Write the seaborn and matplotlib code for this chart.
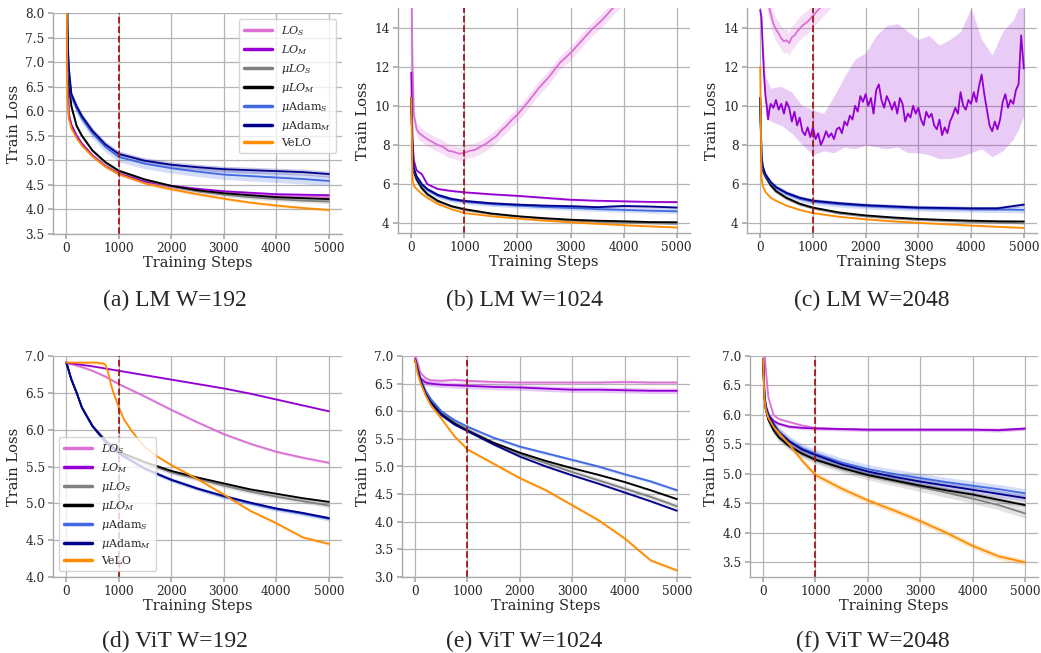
import matplotlib
matplotlib.use("Agg")
import matplotlib.pyplot as plt
from matplotlib.lines import Line2D
import numpy as np
import pandas as pd
import seaborn as sns

# common step grid used for most curves
STEPS = [0, 25, 50, 100, 200, 300, 500, 750, 1000, 1500, 2000, 2500, 3000, 3500, 4000, 4500, 5000]

RUNS = ['LO_S', 'LO_M', 'muLO_S', 'muLO_M', 'muAdam_S', 'muAdam_M', 'VeLO']
LEGEND_LABELS = ['$LO_S$', '$LO_M$', r'$\mu LO_S$', r'$\mu LO_M$',
                 r'$\mu$Adam$_S$', r'$\mu$Adam$_M$', 'VeLO']
PALETTE = dict(zip(RUNS, ['orchid', 'darkviolet', 'gray', 'black',
                          'royalblue', 'darkblue', 'darkorange']))

# (a) LM W=192
LM192 = {
    'LO_S':     [10.4, 7.0, 5.95, 5.72, 5.5, 5.34, 5.1, 4.88, 4.73, 4.56, 4.46, 4.39, 4.34, 4.30, 4.27, 4.26, 4.25],
    'LO_M':     [10.4, 7.0, 5.95, 5.72, 5.5, 5.34, 5.1, 4.88, 4.73, 4.57, 4.48, 4.42, 4.37, 4.34, 4.31, 4.30, 4.29],
    'muLO_S':   [10.4, 7.6, 6.6, 6.1, 5.7, 5.5, 5.2, 4.95, 4.78, 4.60, 4.47, 4.37, 4.30, 4.25, 4.21, 4.18, 4.16],
    'muLO_M':   [10.4, 7.7, 6.6, 6.1, 5.7, 5.5, 5.2, 4.96, 4.79, 4.61, 4.48, 4.39, 4.33, 4.29, 4.25, 4.23, 4.21],
    'muAdam_S': [10.4, 7.5, 6.8, 6.3, 6.05, 5.85, 5.55, 5.27, 5.07, 4.93, 4.84, 4.77, 4.71, 4.68, 4.65, 4.62, 4.58],
    'muAdam_M': [10.4, 7.6, 6.9, 6.35, 6.1, 5.9, 5.6, 5.32, 5.13, 4.99, 4.91, 4.86, 4.82, 4.80, 4.78, 4.76, 4.72],
    'VeLO':     [10.4, 6.3, 5.85, 5.65, 5.45, 5.3, 5.08, 4.87, 4.72, 4.53, 4.41, 4.31, 4.22, 4.14, 4.08, 4.03, 3.99],
}
LM192_BAND = {'LO_S': 0.04, 'LO_M': 0.03, 'muLO_S': 0.04, 'muLO_M': 0.03,
              'muAdam_S': 0.1, 'muAdam_M': 0.06, 'VeLO': 0.03}

# (b) LM W=1024
LM1024 = {
    'LO_M':     [11.7, 8.2, 7.2, 6.7, 6.5, 6.0, 5.75, 5.65, 5.58, 5.48, 5.40, 5.30, 5.20, 5.15, 5.12, 5.09, 5.08],
    'muLO_S':   [10.4, 7.2, 6.6, 6.2, 5.75, 5.45, 5.1, 4.85, 4.68, 4.47, 4.33, 4.22, 4.13, 4.07, 4.03, 4.00, 3.97],
    'muLO_M':   [10.4, 7.2, 6.6, 6.25, 5.8, 5.5, 5.15, 4.88, 4.72, 4.50, 4.36, 4.26, 4.18, 4.13, 4.10, 4.06, 4.05],
    'muAdam_S': [10.4, 7.3, 6.7, 6.35, 5.95, 5.7, 5.4, 5.2, 5.10, 4.98, 4.90, 4.83, 4.78, 4.72, 4.68, 4.64, 4.61],
    'muAdam_M': [10.4, 7.4, 6.8, 6.4, 6.0, 5.75, 5.45, 5.25, 5.14, 5.02, 4.95, 4.90, 4.87, 4.82, 4.88, 4.85, 4.80],
    'VeLO':     [10.4, 6.2, 5.9, 5.75, 5.5, 5.3, 4.98, 4.72, 4.52, 4.36, 4.24, 4.13, 4.05, 3.97, 3.90, 3.84, 3.78],
}
LM1024_LOS_STEPS = [0, 25, 50, 100, 150, 200, 300, 400, 500, 600, 700, 800, 900, 1000, 1100, 1200, 1300,
                    1400, 1500, 1600, 1700, 1800, 1900, 2000, 2200, 2400, 2600, 2800, 3000, 3200, 3400,
                    3600, 3800, 4000, 4500, 5000]
LM1024_LOS = [17.0, 12.0, 9.5, 8.8, 8.6, 8.5, 8.3, 8.15, 8.0, 7.9, 7.7, 7.65, 7.55, 7.6, 7.7, 7.75, 7.9,
              8.05, 8.25, 8.45, 8.75, 9.0, 9.3, 9.55, 10.2, 10.9, 11.5, 12.2, 12.7, 13.3, 13.9,
              14.4, 15.0, 15.5, 16.8, 18.0]
LM1024_BAND = {'LO_S': 0.35, 'LO_M': 0.05, 'muLO_S': 0.04, 'muLO_M': 0.03,
               'muAdam_S': 0.12, 'muAdam_M': 0.08, 'VeLO': 0.03}

# (c) LM W=2048
LM2048 = {
    'muLO_S':   [10.4, 7.2, 6.65, 6.35, 5.9, 5.6, 5.25, 4.95, 4.76, 4.50, 4.35, 4.25, 4.17, 4.12, 4.07, 4.03, 4.00],
    'muLO_M':   [10.4, 7.2, 6.7, 6.4, 5.95, 5.65, 5.3, 5.0, 4.80, 4.55, 4.40, 4.30, 4.22, 4.17, 4.13, 4.10, 4.09],
    'muAdam_S': [10.4, 7.4, 6.8, 6.45, 6.05, 5.8, 5.5, 5.25, 5.10, 4.97, 4.88, 4.82, 4.77, 4.74, 4.71, 4.70, 4.68],
    'muAdam_M': [10.4, 7.5, 6.9, 6.5, 6.1, 5.85, 5.55, 5.3, 5.15, 5.02, 4.92, 4.86, 4.80, 4.78, 4.76, 4.76, 4.95],
    'VeLO':     [12.0, 6.3, 5.9, 5.6, 5.3, 5.15, 4.9, 4.68, 4.52, 4.33, 4.20, 4.10, 4.02, 3.95, 3.88, 3.82, 3.76],
}
LM2048_LOS_STEPS = [0, 100, 150, 200, 250, 300, 350, 400, 450, 500, 550, 600, 650, 700, 800, 900, 1000,
                    1100, 1200, 1400, 2000, 3000, 4000, 5000]
LM2048_LOS = [16.5, 16.0, 15.3, 14.7, 14.2, 13.9, 13.7, 13.45, 13.3, 13.35, 13.2, 13.5, 13.6, 13.8, 14.1,
              14.3, 14.6, 14.9, 15.2, 15.8, 17.0, 18.0, 19.0, 20.0]
LM2048_LOM_STEPS = [0, 25, 50, 75, 100, 125, 150, 175] + list(range(200, 5001, 50))
LM2048_LOM = [14.9, 14.5, 12.9, 11.5, 10.5, 10.0, 9.3, 9.8, 10.1, 9.9, 10.3, 9.8, 10.1, 9.6, 10.2, 9.9,
              9.2, 9.7, 9.0, 9.4, 8.7, 8.5, 8.9, 8.4, 8.9, 8.3, 8.6, 8.0, 8.3, 8.7, 8.4, 8.6,
              8.3, 8.8, 8.9, 8.6, 9.2, 9.0, 9.5, 9.3, 10.0, 9.7, 10.5, 10.2, 10.6, 10.0, 10.4, 9.6,
              10.8, 11.1, 10.3, 9.9, 10.5, 10.2, 9.8, 10.2, 9.6, 10.4, 10.1, 9.2, 9.6, 9.4, 10.0, 9.6,
              9.9, 9.3, 9.0, 9.7, 9.4, 9.6, 9.0, 8.8, 9.3, 8.5, 8.9, 8.6, 9.2, 9.5, 9.9, 9.6,
              10.7, 10.0, 9.8, 10.3, 10.1, 10.7, 10.2, 11.0, 11.6, 10.6, 9.8, 9.0, 8.7, 9.2, 8.8, 9.3,
              10.2, 10.6, 9.9, 10.3, 10.1, 10.8, 11.1, 13.6, 11.9]
LM2048_LOM_BAND_STEPS = [0, 100, 200, 400, 600, 800, 1000, 1200, 1400, 1600, 1800, 2000, 2200, 2400,
                         2600, 2800, 3000, 3200, 3400, 3600, 3800, 4000, 4200, 4400, 4600, 4800, 4900, 5000]
LM2048_LOM_LOW = [14.5, 9.5, 9.2, 9.0, 8.6, 8.0, 7.5, 7.7, 7.6, 7.9, 7.8, 8.0, 7.9, 7.8,
                  7.9, 7.6, 7.6, 7.5, 7.3, 7.3, 7.4, 7.6, 7.8, 7.4, 7.7, 8.3, 8.8, 9.5]
LM2048_LOM_HIGH = [15.2, 11.5, 10.9, 11.0, 10.7, 10.0, 9.8, 9.6, 10.5, 11.5, 12.4, 12.7, 13.6, 14.1,
                   14.2, 13.8, 13.4, 13.6, 13.1, 13.4, 13.8, 15.0, 13.4, 12.6, 13.8, 14.4, 15.0, 15.0]
LM2048_BAND = {'LO_S': 0.6, 'muLO_S': 0.05, 'muLO_M': 0.04,
               'muAdam_S': 0.15, 'muAdam_M': 0.1, 'VeLO': 0.04}

# (d) ViT W=192
VIT192 = {
    'LO_S':     [6.91, 6.9, 6.9, 6.89, 6.87, 6.85, 6.8, 6.72, 6.62, 6.45, 6.27, 6.10, 5.94, 5.81, 5.70, 5.62, 5.55],
    'LO_M':     [6.91, 6.91, 6.9, 6.9, 6.89, 6.88, 6.86, 6.83, 6.80, 6.74, 6.68, 6.62, 6.56, 6.49, 6.41, 6.33, 6.25],
    'muLO_S':   [6.91, 6.86, 6.8, 6.68, 6.5, 6.3, 6.05, 5.85, 5.70, 5.55, 5.42, 5.33, 5.24, 5.16, 5.09, 5.03, 4.97],
    'muLO_M':   [6.91, 6.86, 6.8, 6.68, 6.5, 6.3, 6.05, 5.85, 5.70, 5.56, 5.44, 5.35, 5.27, 5.19, 5.13, 5.07, 5.02],
    'muAdam_S': [6.91, 6.86, 6.8, 6.68, 6.5, 6.3, 6.05, 5.83, 5.68, 5.47, 5.32, 5.20, 5.09, 5.00, 4.92, 4.86, 4.79],
    'muAdam_M': [6.91, 6.86, 6.8, 6.68, 6.5, 6.3, 6.05, 5.83, 5.68, 5.47, 5.32, 5.20, 5.10, 5.01, 4.93, 4.87, 4.80],
}
VIT192_VELO_STEPS = [0, 300, 500, 600, 650, 700, 750, 800, 850, 900, 1000, 1100, 1250, 1500, 1750, 2000,
                     2500, 3000, 3500, 4000, 4500, 5000]
VIT192_VELO = [6.91, 6.91, 6.91, 6.91, 6.9, 6.9, 6.88, 6.78, 6.62, 6.5, 6.31, 6.14, 5.98, 5.76, 5.63, 5.52,
               5.33, 5.12, 4.9, 4.73, 4.54, 4.45]
VIT192_BAND = {'LO_S': 0.02, 'LO_M': 0.01, 'muLO_S': 0.03, 'muLO_M': 0.02,
               'muAdam_S': 0.03, 'muAdam_M': 0.02, 'VeLO': 0.02}

# (e) ViT W=1024
VIT1024 = {
    'LO_S':     [7.0, 6.95, 6.88, 6.7, 6.6, 6.56, 6.55, 6.57, 6.55, 6.53, 6.52, 6.52, 6.52, 6.52, 6.53, 6.52, 6.52],
    'LO_M':     [6.95, 6.85, 6.75, 6.6, 6.52, 6.5, 6.48, 6.47, 6.46, 6.44, 6.43, 6.41, 6.39, 6.39, 6.38, 6.37, 6.37],
    'muLO_S':   [6.93, 6.85, 6.75, 6.58, 6.35, 6.2, 5.98, 5.8, 5.67, 5.42, 5.22, 5.06, 4.90, 4.75, 4.60, 4.45, 4.28],
    'muLO_M':   [6.93, 6.85, 6.75, 6.58, 6.33, 6.17, 5.95, 5.78, 5.65, 5.43, 5.25, 5.10, 4.97, 4.85, 4.72, 4.57, 4.41],
    'muAdam_S': [6.93, 6.85, 6.76, 6.6, 6.37, 6.22, 6.0, 5.84, 5.72, 5.52, 5.36, 5.24, 5.12, 5.00, 4.86, 4.73, 4.57],
    'muAdam_M': [6.93, 6.85, 6.75, 6.57, 6.32, 6.15, 5.93, 5.76, 5.64, 5.40, 5.18, 5.00, 4.84, 4.69, 4.53, 4.37, 4.20],
    'VeLO':     [6.93, 6.8, 6.68, 6.52, 6.29, 6.11, 5.87, 5.55, 5.31, 5.05, 4.79, 4.57, 4.30, 4.03, 3.70, 3.30, 3.12],
}
VIT1024_BAND = {'LO_S': 0.03, 'LO_M': 0.05, 'muLO_S': 0.05, 'muLO_M': 0.02,
                'muAdam_S': 0.03, 'muAdam_M': 0.02, 'VeLO': 0.03}

# (f) ViT W=2048
VIT2048 = {
    'LO_S':     [7.3, 7.1, 6.8, 6.3, 6.0, 5.93, 5.88, 5.82, 5.78, 5.76, 5.75, 5.75, 5.75, 5.75, 5.75, 5.75, 5.76],
    'LO_M':     [6.95, 6.4, 6.15, 6.0, 5.9, 5.85, 5.8, 5.78, 5.77, 5.76, 5.75, 5.75, 5.75, 5.75, 5.75, 5.74, 5.77],
    'muLO_S':   [6.95, 6.3, 6.1, 5.92, 5.75, 5.63, 5.48, 5.35, 5.25, 5.10, 4.98, 4.88, 4.78, 4.68, 4.58, 4.47, 4.33],
    'muLO_M':   [6.95, 6.3, 6.1, 5.92, 5.74, 5.62, 5.47, 5.34, 5.24, 5.10, 4.98, 4.89, 4.80, 4.72, 4.65, 4.56, 4.47],
    'muAdam_S': [6.95, 6.35, 6.15, 6.0, 5.85, 5.72, 5.56, 5.43, 5.34, 5.19, 5.08, 5.00, 4.93, 4.86, 4.80, 4.74, 4.67],
    'muAdam_M': [6.95, 6.35, 6.15, 6.0, 5.84, 5.71, 5.55, 5.41, 5.32, 5.16, 5.04, 4.95, 4.87, 4.80, 4.73, 4.66, 4.59],
    'VeLO':     [6.95, 6.3, 6.1, 5.95, 5.8, 5.7, 5.5, 5.22, 4.98, 4.75, 4.55, 4.38, 4.20, 4.00, 3.78, 3.60, 3.50],
}
VIT2048_BAND = {'LO_S': 0.02, 'LO_M': 0.03, 'muLO_S': 0.08, 'muLO_M': 0.04,
                'muAdam_S': 0.08, 'muAdam_M': 0.06, 'VeLO': 0.05}

CAPTIONS = ['(a) LM W=192', '(b) LM W=1024', '(c) LM W=2048',
            '(d) ViT W=192', '(e) ViT W=1024', '(f) ViT W=2048']


def long_frame(curves, extra):
    # curves on the common grid plus (steps, values) pairs for the odd ones
    rows = []
    for run in RUNS:
        if run in extra:
            xs, ys = extra[run]
        elif run in curves:
            xs, ys = STEPS, curves[run]
        else:
            continue
        rows.append(pd.DataFrame({'step': xs, 'loss': ys, 'run': run}))
    return pd.concat(rows, ignore_index=True)


sns.set_theme(style='whitegrid')
plt.rcParams.update({
    'font.family': ['DejaVu Serif'],
    'mathtext.fontset': 'dejavuserif',
    'axes.edgecolor': '#aaaaaa',
    'axes.linewidth': 1.0,
    'grid.color': '#b4b4b4',
    'grid.linewidth': 0.9,
    'xtick.bottom': True,
    'ytick.left': True,
    'xtick.color': '#aaaaaa',
    'ytick.color': '#aaaaaa',
    'xtick.labelcolor': '#262626',
    'ytick.labelcolor': '#262626',
    'xtick.major.size': 3.5,
    'ytick.major.size': 3.5,
    'xtick.major.pad': 2.5,
    'ytick.major.pad': 2.5,
    'xtick.labelsize': 8.7,
    'ytick.labelsize': 8.7,
})

W, H = 1041, 653
fig = plt.figure(figsize=(W / 100, H / 100), dpi=100)

# axes boxes in pixels: left, top, right, bottom
boxes = [(53, 13, 342, 234), (398, 8, 690, 233), (747, 8, 1037, 233),
         (53, 356, 342, 577), (402, 356, 690, 577), (750, 356, 1038, 577)]
caption_xy = [(175, 300), (525, 300), (872, 300), (175, 641), (524, 641), (873, 641)]

panels = [
    (LM192, {}, LM192_BAND, (3.5, 8.0), np.arange(3.5, 8.01, 0.5)),
    (LM1024, {'LO_S': (LM1024_LOS_STEPS, LM1024_LOS)}, LM1024_BAND, (3.5, 15.0), [4, 6, 8, 10, 12, 14]),
    (LM2048, {'LO_S': (LM2048_LOS_STEPS, LM2048_LOS), 'LO_M': (LM2048_LOM_STEPS, LM2048_LOM)},
     LM2048_BAND, (3.5, 15.0), [4, 6, 8, 10, 12, 14]),
    (VIT192, {'VeLO': (VIT192_VELO_STEPS, VIT192_VELO)}, VIT192_BAND, (4.0, 7.0), np.arange(4.0, 7.01, 0.5)),
    (VIT1024, {}, VIT1024_BAND, (3.0, 7.0), np.arange(3.0, 7.01, 0.5)),
    (VIT2048, {}, VIT2048_BAND, (3.25, 7.0), np.arange(3.5, 7.01, 0.5)),
]

for i, (curves, extra, band, ylim, yticks) in enumerate(panels):
    l, t, r, b = boxes[i]
    ax = fig.add_axes([l / W, 1 - b / H, (r - l) / W, (b - t) / H])
    df = long_frame(curves, extra)

    # shaded spread around each run
    for run in RUNS:
        sub = df[df['run'] == run]
        if sub.empty:
            continue
        hw = band.get(run, 0.0)
        if hw > 0:
            ax.fill_between(sub['step'], sub['loss'] - hw, sub['loss'] + hw,
                            color=PALETTE[run], alpha=0.22, lw=0)
    if i == 2:
        ax.fill_between(LM2048_LOM_BAND_STEPS, LM2048_LOM_LOW, LM2048_LOM_HIGH,
                        color=PALETTE['LO_M'], alpha=0.2, lw=0)

    sns.lineplot(data=df, x='step', y='loss', hue='run', hue_order=RUNS, palette=PALETTE,
                 estimator=None, sort=False, linewidth=1.3, legend=False, ax=ax)

    ax.axvline(1000, color='#a01818', ls='--', lw=1.3)
    ax.set_xlim(-250, 5250)
    ax.set_ylim(*ylim)
    ax.set_xticks([0, 1000, 2000, 3000, 4000, 5000])
    ax.set_yticks(yticks)
    ax.set_xlabel('Training Steps', fontsize=10.5, labelpad=0.5)
    ax.set_ylabel('Train Loss', fontsize=10.5, labelpad=3)
    for side in ['top', 'right']:
        ax.spines[side].set_visible(False)

    if i in (0, 3):
        handles = [Line2D([], [], color=PALETTE[run], lw=2.5) for run in RUNS]
        ax.legend(handles, LEGEND_LABELS, loc='upper right' if i == 0 else 'lower left',
                  fontsize=8, handlelength=2.5, labelspacing=0.45, borderpad=0.5,
                  frameon=True, edgecolor='#cccccc', framealpha=0.8)

    cx, cy = caption_xy[i]
    fig.text(cx / W, 1 - cy / H, CAPTIONS[i], ha='center', va='center',
             fontsize=17, family='Liberation Serif')

fig.savefig('out.png', dpi=100)
